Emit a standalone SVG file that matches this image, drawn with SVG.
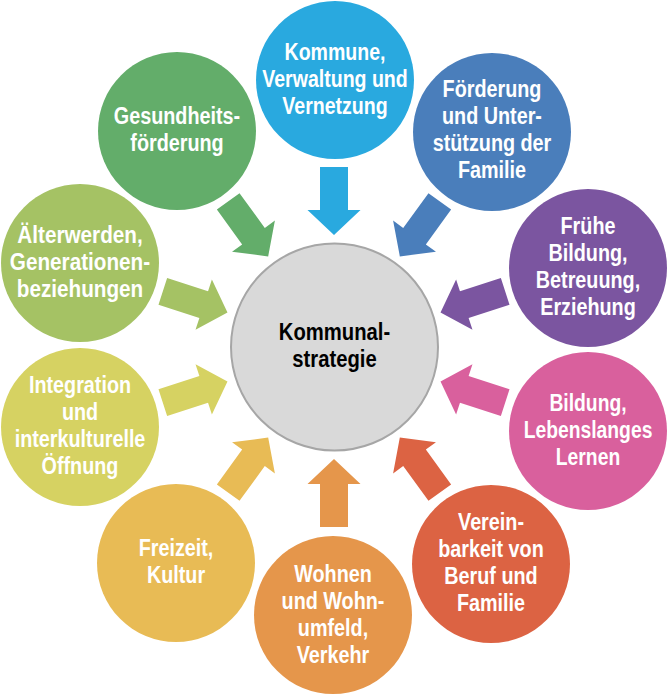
<svg xmlns="http://www.w3.org/2000/svg" xmlns:xlink="http://www.w3.org/1999/xlink" width="669" height="694" viewBox="0 0 669 694">
<style>
.t{font-family:"Liberation Sans",Arial,sans-serif;font-weight:bold;font-size:23px;text-anchor:middle;fill:#ffffff}
.c{font-family:"Liberation Sans",Arial,sans-serif;font-weight:bold;font-size:23px;text-anchor:middle;fill:#000000}
</style>
<defs>
<path id="arr" d="M0,-112 L26.5,-137 L14,-137 L14,-180 L-14,-180 L-14,-137 L-26.5,-137 Z"/>
</defs>
<rect width="669" height="694" fill="#ffffff"/>
<g id="connectors">
<use xlink:href="#arr" href="#arr" transform="translate(334,347) rotate(0)" fill="#29a9df"/>
<use xlink:href="#arr" href="#arr" transform="translate(334,347) rotate(36)" fill="#4a7ebb"/>
<use xlink:href="#arr" href="#arr" transform="translate(334,347) rotate(72)" fill="#7b55a0"/>
<use xlink:href="#arr" href="#arr" transform="translate(334,347) rotate(108)" fill="#d9609d"/>
<use xlink:href="#arr" href="#arr" transform="translate(334,347) rotate(144)" fill="#dc6343"/>
<use xlink:href="#arr" href="#arr" transform="translate(334,347) rotate(180)" fill="#e5964b"/>
<use xlink:href="#arr" href="#arr" transform="translate(334,347) rotate(216)" fill="#e8bb55"/>
<use xlink:href="#arr" href="#arr" transform="translate(334,347) rotate(252)" fill="#d6d262"/>
<use xlink:href="#arr" href="#arr" transform="translate(334,347) rotate(288)" fill="#a5c264"/>
<use xlink:href="#arr" href="#arr" transform="translate(334,347) rotate(324)" fill="#63ad6a"/>
</g>
<g id="center">
<circle cx="334.5" cy="347" r="103.5" fill="#d9d9d9" stroke="#a6a6a6" stroke-width="2"/>
<g transform="translate(334.5,0) scale(0.88,1)">
<text class="c" x="0" y="340">Kommunal-</text>
<text class="c" x="0" y="367">strategie</text>
</g>
</g>
<g id="n1">
<circle cx="335" cy="80" r="79" fill="#29a9df"/>
<g transform="translate(335,0) scale(0.85,1)">
<text class="t" x="0" y="60">Kommune,</text>
<text class="t" x="0" y="87">Verwaltung und</text>
<text class="t" x="0" y="114">Vernetzung</text>
</g>
</g>
<g id="n2">
<circle cx="492" cy="132" r="79" fill="#4a7ebb"/>
<g transform="translate(492,0) scale(0.86,1)">
<text class="t" x="0" y="97">Förderung</text>
<text class="t" x="0" y="124">und Unter-</text>
<text class="t" x="0" y="151">stützung der</text>
<text class="t" x="0" y="178">Familie</text>
</g>
</g>
<g id="n3">
<circle cx="588" cy="268" r="79" fill="#7b55a0"/>
<g transform="translate(588,0) scale(0.86,1)">
<text class="t" x="0" y="234">Frühe</text>
<text class="t" x="0" y="261">Bildung,</text>
<text class="t" x="0" y="288">Betreuung,</text>
<text class="t" x="0" y="315">Erziehung</text>
</g>
</g>
<g id="n4">
<circle cx="588" cy="431" r="79" fill="#d9609d"/>
<g transform="translate(588,0) scale(0.84,1)">
<text class="t" x="0" y="411">Bildung,</text>
<text class="t" x="0" y="438">Lebenslanges</text>
<text class="t" x="0" y="465">Lernen</text>
</g>
</g>
<g id="n5">
<circle cx="491" cy="564" r="79" fill="#dc6343"/>
<g transform="translate(491,0) scale(0.86,1)">
<text class="t" x="0" y="530">Verein-</text>
<text class="t" x="0" y="557">barkeit von</text>
<text class="t" x="0" y="584">Beruf und</text>
<text class="t" x="0" y="611">Familie</text>
</g>
</g>
<g id="n6">
<circle cx="333" cy="615" r="79" fill="#e5964b"/>
<g transform="translate(333,0) scale(0.86,1)">
<text class="t" x="0" y="582">Wohnen</text>
<text class="t" x="0" y="609">und Wohn-</text>
<text class="t" x="0" y="636">umfeld,</text>
<text class="t" x="0" y="663">Verkehr</text>
</g>
</g>
<g id="n7">
<circle cx="176" cy="563" r="79" fill="#e8bb55"/>
<g transform="translate(176,0) scale(0.86,1)">
<text class="t" x="0" y="556">Freizeit,</text>
<text class="t" x="0" y="583">Kultur</text>
</g>
</g>
<g id="n8">
<circle cx="80" cy="427" r="79" fill="#d6d262"/>
<g transform="translate(80,0) scale(0.86,1)">
<text class="t" x="0" y="393">Integration</text>
<text class="t" x="0" y="420">und</text>
<text class="t" x="0" y="447">interkulturelle</text>
<text class="t" x="0" y="474">Öffnung</text>
</g>
</g>
<g id="n9">
<circle cx="80" cy="263" r="79" fill="#a5c264"/>
<g transform="translate(80,0) scale(0.9,1)">
<text class="t" x="0" y="243">Älterwerden,</text>
<text class="t" x="0" y="270">Generationen-</text>
<text class="t" x="0" y="297">beziehungen</text>
</g>
</g>
<g id="n10">
<circle cx="177" cy="131" r="79" fill="#63ad6a"/>
<g transform="translate(177,0) scale(0.86,1)">
<text class="t" x="0" y="124">Gesundheits-</text>
<text class="t" x="0" y="151">förderung</text>
</g>
</g>
</svg>
